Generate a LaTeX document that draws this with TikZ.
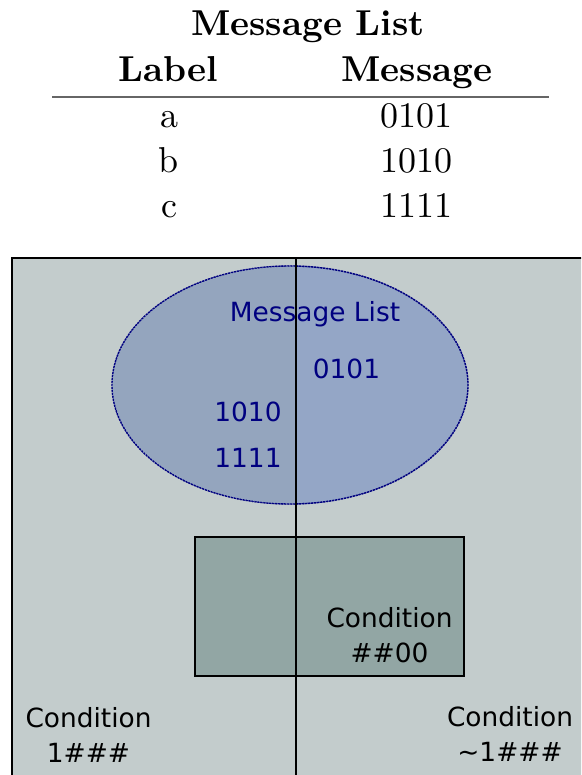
\documentclass[tikz,border=0pt]{standalone}
\usepackage{fontspec}
\newfontfamily\dejavu{DejaVu Sans}
\newfontfamily\lmten{lmroman10-regular.otf}[BoldFont=lmroman10-bold.otf]
\usetikzlibrary{shapes.geometric, positioning}

\definecolor{spacegray}{RGB}{195,204,204}
\definecolor{msgblue}{RGB}{148,166,198}
\definecolor{msgblueleft}{RGB}{148,165,190}
\definecolor{condgray}{RGB}{146,166,164}
\definecolor{msgnavy}{RGB}{0,0,128}

\begin{document}
\begin{tikzpicture}[
        x=1pt, y=-1pt,
        tabhead/.style={anchor=base, inner sep=0pt, font=\lmten\fontsize{36}{43}\selectfont\bfseries},
        cell/.style={anchor=base, inner sep=0pt, font=\lmten\fontsize{36}{43}\selectfont},
        tabrule/.style={draw=black!60, line width=1.2pt},
        space/.style={draw=black, fill=spacegray, line width=1.5pt},
        msgset/.style={ellipse, draw=msgnavy, fill=msgblue, line width=1.4pt, dash pattern=on 1.4pt off 1.6pt, minimum width=356pt, minimum height=238pt, inner sep=0pt},
        condbox/.style={draw=black, fill=condgray, line width=1.3pt},
        msgtext/.style={anchor=base, inner sep=0pt, text=msgnavy, font=\dejavu\fontsize{26.4}{34.5}\selectfont},
        condtext/.style={anchor=base, inner sep=0pt, align=center, font=\dejavu\fontsize{26.4}{34.5}\selectfont}
    ]
    \clip (0,0) rectangle (581,775);

    % table of messages
    \node[tabhead] (title) at (308,36) {Message List};
    \node[tabhead] (headlabel) at (168,82) {Label};
    \node[tabhead] (headmsg) at (417,82) {Message};
    \draw[tabrule] (52,97) -- (549,97);
    \foreach \lab/\msg [count=\i] in {a/0101, b/1010, c/1111} {
        \node[cell] (lab\i) at (169,83+45*\i) {\lab};
        \node[cell] (msg\i) at (416,83+45*\i) {\msg};
    }

    % condition space
    \draw[space] (12,258) rectangle (600,800);
    \node[msgset] (msgs) at (290,385) {};
    \begin{scope}
        \clip (0,0) rectangle (296,775);
        \fill[msgblueleft] (msgs.center) ellipse [x radius=177.3, y radius=118.3];
    \end{scope}
    \draw[msgset, fill=none] (msgs.center) ellipse [x radius=178, y radius=119];
    \node[msgtext] (msgtitle) at (315,321) {Message List};
    \node[msgtext] (m1) at (346.5,378) {0101};
    \node[msgtext] (m2) at (248,421) {1010};
    \node[msgtext] (m3) at (248,467) {1111};

    % the last line of each label sits on the given baseline
    \draw[condbox] (195,537) rectangle (464,676);
    \node[condtext] (condlow) at (389.5,662) {Condition\\\#\#00};
    \node[condtext] (condleft) at (88.5,762) {Condition\\1\#\#\#};
    \node[condtext] (condright) at (510,761) {Condition\\\textasciitilde1\#\#\#};

    \draw[black, line width=1.5pt] (296,258) -- (296,775);
\end{tikzpicture}
\end{document}
